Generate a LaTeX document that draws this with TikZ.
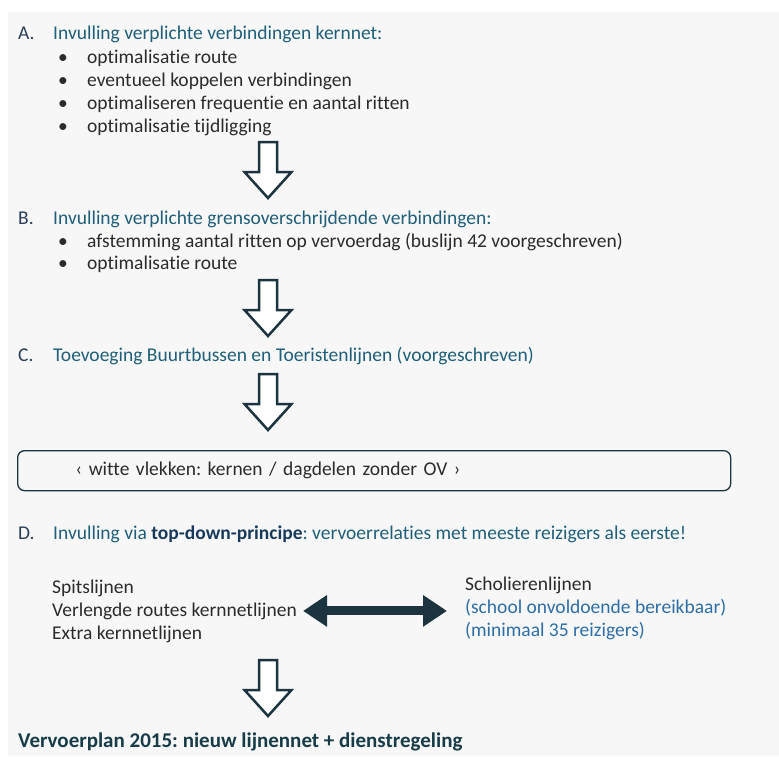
\documentclass[tikz,border=0pt]{standalone}
\usepackage{fontspec}
\setmainfont{Carlito}[Ligatures=NoCommon]
\usepackage{xcolor}
\usetikzlibrary{arrows.meta,positioning}
\definecolor{vpBack}{HTML}{F7F7F7}
\definecolor{vpLabel}{HTML}{2A3F55}
\definecolor{vpHead}{HTML}{1F5F7A}
\definecolor{vpNavy}{HTML}{173A5C}
\definecolor{vpBody}{HTML}{2B2B2B}
\definecolor{vpBlue}{HTML}{2E6EA6}
\definecolor{vpTitle}{HTML}{173C48}
\definecolor{vpArrow}{HTML}{1C3340}
\frenchspacing

% hollow block arrow pointing down, top centre at #1
\newcommand{\flowarrow}[1]{%
  \draw[blockar] (#1) ++(-9,0) -- ++(0,30) -- ++(-14.5,0) -- ++(23.5,26)
    -- ++(23.5,-26) -- ++(-14.5,0) -- ++(0,-30) -- cycle;}

\begin{document}
\begin{tikzpicture}[
    x=1pt,y=-1pt,
    font=\fontsize{19.5pt}{23pt}\selectfont,
    lab/.style={anchor=base west,inner sep=0pt,text=vpLabel},
    head/.style={anchor=base west,inner sep=0pt,text=vpHead},
    item/.style={anchor=base west,inner sep=0pt,text=vpBody},
    blue/.style={anchor=base west,inner sep=0pt,text=vpBlue},
    vak/.style={draw=vpArrow,line width=1.3pt,rounded corners=7pt,anchor=north west,
                minimum height=40pt,text width=597pt,inner xsep=58pt,align=left,text=vpBody},
    titel/.style={anchor=base west,inner sep=0pt,text=vpTitle,
                  font=\fontsize{21pt}{25pt}\selectfont\bfseries},
    blockar/.style={draw=vpArrow,line width=2.5pt,line join=miter,fill=white},
    dbl/.style={draw=vpArrow,line width=9pt,{Triangle[length=24pt,width=30pt]}-{Triangle[length=24pt,width=30pt]}}
  ]
    \useasboundingbox (0,0) rectangle (779,756);
    \fill[white] (0,0) rectangle (779,756);
    \fill[vpBack] (8,12) rectangle (779,756);

    % A
    \node[lab]  (la) at (18,39)  {A.};
    \node[head] (ha) at (53,39)  {Invulling verplichte verbindingen kernnet:};
    \node[item] (a1) at (58,63)  {\makebox[29pt][l]{\textbullet}optimalisatie route};
    \node[item] (a2) at (58,86)  {\makebox[29pt][l]{\textbullet}eventueel koppelen verbindingen};
    \node[item] (a3) at (58,109) {\makebox[29pt][l]{\textbullet}optimaliseren frequentie en aantal ritten};
    \node[item] (a4) at (58,132) {\makebox[29pt][l]{\textbullet}optimalisatie tijdligging};

    % B
    \node[lab]  (lb) at (18,224) {B.};
    \node[head] (hb) at (53,224) {Invulling verplichte grensoverschrijdende verbindingen:};
    \node[item] (b1) at (58,247) {\makebox[29pt][l]{\textbullet}afstemming aantal ritten op vervoerdag (buslijn 42 voorgeschreven)};
    \node[item] (b2) at (58,269) {\makebox[29pt][l]{\textbullet}optimalisatie route};

    % C
    \node[lab]  (lc) at (18,361) {C.};
    \node[head] (hc) at (53,361) {Toevoeging Buurtbussen en Toeristenlijnen (voorgeschreven)};

    \node[vak] (wit) at (17,450) {‹ witte vlekken: kernen / dagdelen zonder OV ›};

    % D
    \node[lab]  (ld) at (18,539) {D.};
    \node[head] (hd) at (53,539) {Invulling via \textcolor{vpNavy}{\bfseries top-down-principe}: vervoerrelaties met meeste reizigers als eerste!};

    \node[item] (spits)  at (52,593) {Spitslijnen};
    \node[item] (verl)   at (52,616) {Verlengde routes kernnetlijnen};
    \node[item] (extra)  at (52,639) {Extra kernnetlijnen};
    \node[item] (schol)  at (465,590) {Scholierenlijnen};
    \node[blue] (school) at (465,613) {(school onvoldoende bereikbaar)};
    \node[blue] (mini)   at (465,636) {(minimaal 35 reizigers)};

    \node[titel] (plan) at (18,747) {Vervoerplan 2015: nieuw lijnennet + dienstregeling};

    \coordinate (pa) at (268,142);
    \coordinate (pb) at (268,280);
    \coordinate (pc) at (268,374);
    \coordinate (pd) at (268,660);
    \flowarrow{pa}
    \flowarrow{pb}
    \flowarrow{pc}
    \flowarrow{pd}

    \draw[dbl] ([xshift=6pt]verl.east) -- ([xshift=-18pt]verl.east -| school.west);
  \end{tikzpicture}
\end{document}
